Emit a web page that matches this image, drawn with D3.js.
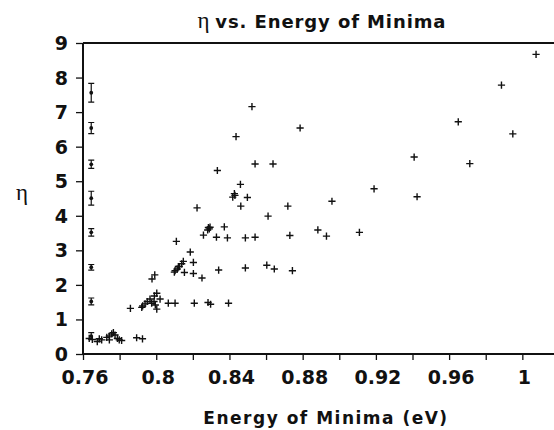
<!DOCTYPE html>
<html>
<head>
<meta charset="utf-8">
<script src="https://cdn.jsdelivr.net/npm/d3@7"></script>
<style>
  html, body { margin: 0; padding: 0; background: #fff; }
  svg { display: block; }
  .tick-label { font-family: "DejaVu Sans", sans-serif; font-weight: bold; }
</style>
</head>
<body>
<svg id="chart" width="554" height="430"></svg>
<script>
// Measured ideality factor n against the energy of the minima (eV)
const energy = [
  1.0075, 0.9886, 0.965, 0.9948, 0.8786, 0.9409, 0.9713, 0.919, 0.9425, 0.896,
  0.8883, 0.893, 0.911, 0.8523, 0.8436, 0.854, 0.8638, 0.8334, 0.846, 0.8427,
  0.8418, 0.843, 0.8498, 0.8462, 0.8223, 0.8719, 0.8611, 0.8285, 0.829, 0.8281,
  0.8294, 0.8372, 0.8258, 0.8329, 0.8389, 0.8487, 0.854, 0.873, 0.811, 0.8186,
  0.8203, 0.8148, 0.8139, 0.8126, 0.8115, 0.8103, 0.8099, 0.8121, 0.8154, 0.8203,
  0.825, 0.8341, 0.8487, 0.8604, 0.8645, 0.8744, 0.7992, 0.7977, 0.7859, 0.8003,
  0.799, 0.7966, 0.7951, 0.7939, 0.7926, 0.7921, 0.7975, 0.7988, 0.7995, 0.8003,
  0.8021, 0.8066, 0.8103, 0.8208, 0.8283, 0.8297, 0.8395,
  0.7634, 0.7651, 0.7689, 0.7702, 0.773, 0.7744, 0.7757, 0.7766, 0.7775, 0.7788,
  0.7798, 0.7811, 0.7744, 0.7678, 0.7893, 0.7925
];
const nValue = [
  8.67, 7.78, 6.72, 6.37, 6.54, 5.70, 5.51, 4.78, 4.55, 4.42,
  3.59, 3.41, 3.52, 7.16, 6.29, 5.50, 5.50, 5.31, 4.91, 4.64,
  4.54, 4.59, 4.53, 4.28, 4.23, 4.28, 3.99, 3.66, 3.62, 3.59,
  3.67, 3.68, 3.44, 3.38, 3.36, 3.36, 3.38, 3.43, 3.26, 2.95,
  2.65, 2.68, 2.61, 2.53, 2.46, 2.41, 2.37, 2.53, 2.36, 2.33,
  2.20, 2.43, 2.49, 2.57, 2.46, 2.41, 2.29, 2.17, 1.32, 1.76,
  1.68, 1.59, 1.52, 1.45, 1.39, 1.35, 1.47, 1.52, 1.42, 1.30,
  1.59, 1.47, 1.47, 1.47, 1.49, 1.44, 1.47,
  0.45, 0.42, 0.44, 0.41, 0.48, 0.52, 0.58, 0.62, 0.55, 0.45,
  0.41, 0.39, 0.41, 0.36, 0.47, 0.44
];

// Typical uncertainty of n at each level, drawn as a column of error bars
const refEnergy = [0.7645, 0.7645, 0.7645, 0.7645, 0.7645, 0.7645, 0.7645, 0.7645];
const refN = [0.52, 1.52, 2.51, 3.52, 4.51, 5.49, 6.54, 7.56];
const refErr = [0.10, 0.10, 0.08, 0.11, 0.20, 0.12, 0.16, 0.27];

const xTickValues = [0.76, 0.8, 0.84, 0.88, 0.92, 0.96, 1];
const xMinorValues = [0.78, 0.82, 0.86, 0.90, 0.94, 0.98, 1.02];
const yTickValues = [0, 1, 2, 3, 4, 5, 6, 7, 8, 9];

const titleText = "vs. Energy of Minima";
const xAxisTitle = "Energy of Minima (eV)";
const symbolN = "\u03b7";

const svg = d3.select("#chart");
const W = 554;

const x = d3.scaleLinear().domain([0.76, 1.0244]).range([83, 567]);
const y = d3.scaleLinear().domain([0, 9]).range([354, 43]);

const ink = "#111";

// Frame: top rule runs across the plot
svg.append("line")
  .attr("x1", x(0.76)).attr("x2", W + 5)
  .attr("y1", y(9)).attr("y2", y(9))
  .attr("stroke", ink).attr("stroke-width", 2);

// X axis
const xAxis = svg.append("g").attr("transform", `translate(0,${y(0)})`);
xAxis.call(d3.axisBottom(x).tickValues(xTickValues.concat(xMinorValues))
  .tickSize(6).tickFormat(""));
xAxis.select(".domain").attr("d", `M${x(0.76)},0H${W + 5}`)
  .attr("stroke", ink).attr("stroke-width", 2);
xAxis.selectAll(".tick line").attr("stroke", ink).attr("stroke-width", 1.3);

xAxis.selectAll(".xlab")
  .data(xTickValues)
  .join("text")
  .attr("class", "tick-label")
  .attr("x", d => x(d) + 2)
  .attr("y", 30)
  .attr("text-anchor", "middle")
  .attr("font-size", 19)
  .attr("fill", ink)
  .text(d => d3.format("")(d));

// Y axis
const yAxis = svg.append("g").attr("transform", `translate(${x(0.76)},0)`);
yAxis.call(d3.axisLeft(y).tickValues(yTickValues).tickSize(7).tickFormat(""));
yAxis.select(".domain").attr("d", `M0,${y(0)}V${y(9)}`)
  .attr("stroke", ink).attr("stroke-width", 2);
yAxis.selectAll(".tick line").attr("stroke", ink).attr("stroke-width", 1.3);

yAxis.selectAll(".ylab")
  .data(yTickValues)
  .join("text")
  .attr("class", "tick-label")
  .attr("x", -15)
  .attr("y", d => y(d) + 7)
  .attr("text-anchor", "end")
  .attr("font-size", 19)
  .attr("fill", ink)
  .text(d => d);

// Title
const title = svg.append("text")
  .attr("x", 322).attr("y", 28)
  .attr("text-anchor", "middle")
  .attr("fill", ink);
title.append("tspan")
  .attr("font-family", "Liberation Serif, serif")
  .attr("font-size", 23)
  .text(symbolN + " ");
title.append("tspan")
  .attr("font-family", "DejaVu Sans, sans-serif")
  .attr("font-weight", "bold")
  .attr("font-size", 18)
  .attr("letter-spacing", 0.9)
  .text(titleText);

// Y axis label
svg.append("text")
  .attr("x", 22).attr("y", 200)
  .attr("text-anchor", "middle")
  .attr("font-family", "Liberation Serif, serif")
  .attr("font-size", 23)
  .attr("fill", ink)
  .text(symbolN);

// X axis title
svg.append("text")
  .attr("x", 326).attr("y", 424)
  .attr("text-anchor", "middle")
  .attr("font-family", "DejaVu Sans, sans-serif")
  .attr("font-weight", "bold")
  .attr("font-size", 17)
  .attr("letter-spacing", 1.5)
  .attr("fill", ink)
  .text(xAxisTitle);

// Data points as plus markers
const arm = 3.6;
const pts = svg.append("g");
energy.forEach((e, i) => {
  const cx = x(e), cy = y(nValue[i]);
  pts.append("path")
    .attr("d", `M${cx - arm},${cy}H${cx + arm}M${cx},${cy - arm}V${cy + arm}`)
    .attr("stroke", ink).attr("stroke-width", 1.4).attr("fill", "none");
});

// Reference error bars
const eb = svg.append("g");
refN.forEach((v, i) => {
  const cx = x(refEnergy[i]);
  const top = y(v + refErr[i]), bot = y(v - refErr[i]);
  eb.append("path")
    .attr("d", `M${cx},${top}V${bot}M${cx - 3},${top}H${cx + 3}M${cx - 3},${bot}H${cx + 3}`)
    .attr("stroke", ink).attr("stroke-width", 1.2).attr("fill", "none");
  eb.append("circle")
    .attr("cx", cx).attr("cy", y(v)).attr("r", 1.9).attr("fill", ink);
});
</script>
</body>
</html>
